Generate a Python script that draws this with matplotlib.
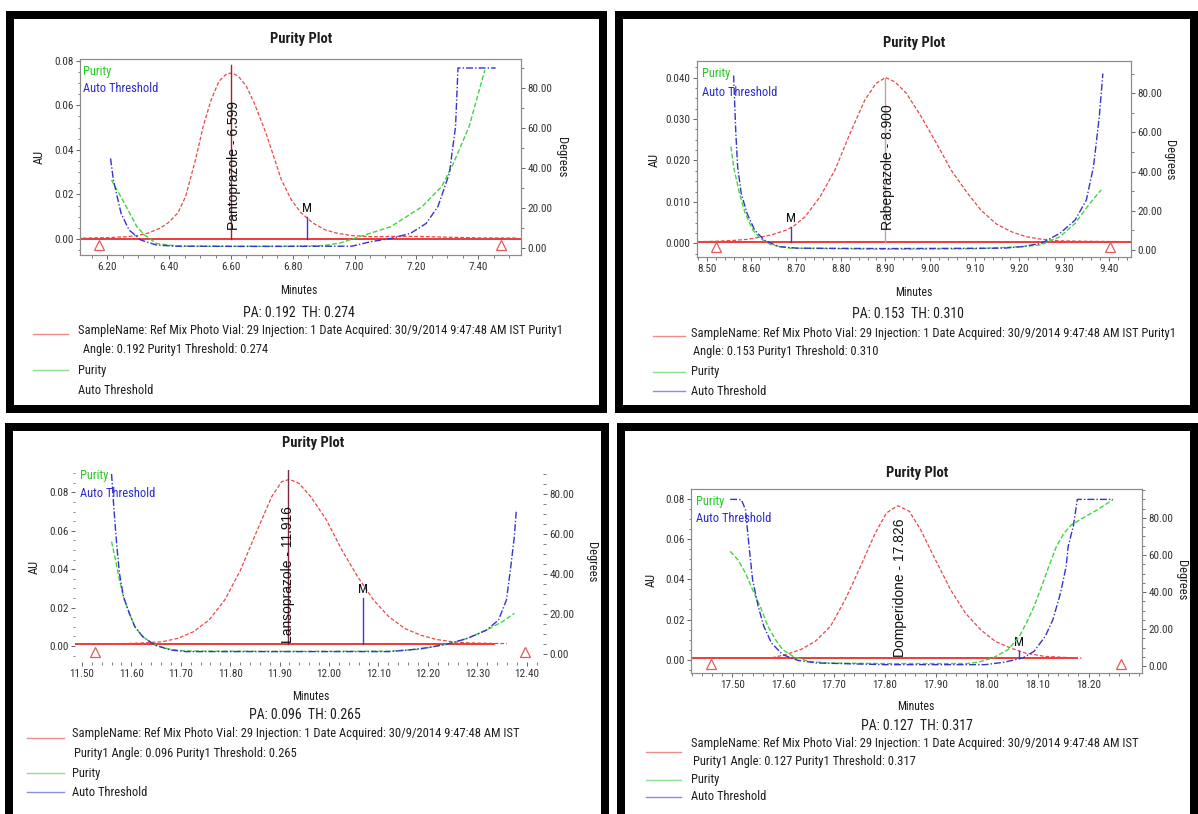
import matplotlib
matplotlib.use("Agg")
import matplotlib.pyplot as plt
import matplotlib.transforms as mtrans
from matplotlib import font_manager as fm
from matplotlib.ticker import MultipleLocator, FixedLocator, FormatStrFormatter
from matplotlib.patches import Rectangle
from matplotlib.lines import Line2D

# ---------------------------------------------------------------- data
# Pantoprazole
pan_name = "Pantoprazole"
pan_rt = 6.599
pan_pa, pan_th = 0.192, 0.274
pan_xticks = [6.20, 6.40, 6.60, 6.80, 7.00, 7.20, 7.40]
pan_yticks = [0.00, 0.02, 0.04, 0.06, 0.08]
pan_time_red = [6.12, 6.20, 6.26, 6.30, 6.333, 6.371, 6.396, 6.428, 6.453, 6.485, 6.510,
                6.536, 6.561, 6.586, 6.605, 6.624, 6.650, 6.675, 6.713, 6.738, 6.763, 6.795,
                6.827, 6.865, 6.903, 6.940, 6.991, 7.06, 7.15, 7.22, 7.30, 7.40, 7.53]
pan_au_red = [0.0004, 0.0006, 0.0010, 0.0016, 0.0027, 0.0049, 0.0072, 0.0117, 0.0191, 0.0356,
              0.0506, 0.0626, 0.0708, 0.0742, 0.0745, 0.0730, 0.0685, 0.0611, 0.0476, 0.0371,
              0.0266, 0.0176, 0.0117, 0.0072, 0.0042, 0.0027, 0.0015, 0.0010, 0.0012, 0.0011,
              0.0008, 0.0005, 0.0004]
pan_time_pur = [6.213, 6.255, 6.295, 6.320, 6.358, 6.422, 6.60, 6.80, 6.90, 6.953, 7.017,
                7.118, 7.219, 7.282, 7.320, 7.371, 7.422]
pan_deg_pur = [34.0, 22.3, 10.7, 6.5, 2.3, 1.0, 0.8, 0.9, 1.2, 2.5, 5.7, 10.7, 20.7, 30.7,
               42.3, 60.7, 89.0]
pan_time_thr = [6.210, 6.219, 6.244, 6.270, 6.308, 6.358, 6.422, 6.70, 6.991, 7.054, 7.118,
                7.181, 7.232, 7.270, 7.307, 7.327, 7.335, 7.457]
pan_deg_thr = [44.8, 34.0, 17.3, 9.0, 4.0, 1.5, 0.9, 0.8, 0.9, 3.2, 4.8, 7.3, 12.3, 20.7,
               37.3, 60.7, 90.0, 90.0]
pan_bounds = [6.172, 7.473]
pan_m_time, pan_m_au = 6.845, 0.0100
pan_baseline_au, pan_baseline_end = 0.0, None

# Rabeprazole
rab_name = "Rabeprazole"
rab_rt = 8.900
rab_pa, rab_th = 0.153, 0.310
rab_xticks = [8.50, 8.60, 8.70, 8.80, 8.90, 9.00, 9.10, 9.20, 9.30, 9.40]
rab_yticks = [0.000, 0.010, 0.020, 0.030, 0.040]
rab_time_red = [8.48, 8.52, 8.56, 8.594, 8.619, 8.644, 8.678, 8.695, 8.720, 8.754, 8.787,
                8.821, 8.854, 8.879, 8.900, 8.921, 8.947, 8.980, 9.014, 9.047, 9.081, 9.114,
                9.148, 9.182, 9.215, 9.249, 9.291, 9.35, 9.45]
rab_au_red = [0.0004, 0.0005, 0.0007, 0.0010, 0.0015, 0.0020, 0.0032, 0.0042, 0.0064, 0.0113,
              0.0177, 0.0266, 0.0346, 0.0386, 0.0400, 0.0390, 0.0362, 0.0306, 0.0242, 0.0177,
              0.0125, 0.0080, 0.0047, 0.0028, 0.0016, 0.0010, 0.0006, 0.0005, 0.0004]
rab_time_pur = [8.554, 8.560, 8.573, 8.586, 8.603, 8.619, 8.644, 8.686, 8.90, 9.10, 9.207,
                9.249, 9.291, 9.325, 9.358, 9.383]
rab_deg_pur = [52.7, 42.5, 28.9, 18.7, 10.2, 6.0, 2.6, 0.9, 0.4, 0.6, 1.7, 2.6, 6.8, 13.6,
               23.8, 30.6]
rab_time_thr = [8.560, 8.565, 8.569, 8.577, 8.590, 8.607, 8.628, 8.661, 8.703, 8.90, 9.165,
                9.207, 9.249, 9.291, 9.325, 9.350, 9.366, 9.379, 9.387]
rab_deg_thr = [89.0, 59.5, 42.5, 28.9, 18.7, 10.2, 5.1, 1.7, 0.9, 0.7, 0.9, 1.7, 3.4, 8.5,
               15.3, 25.5, 42.5, 68.0, 90.0]
rab_bounds = [8.521, 9.404]
rab_m_time, rab_m_au = 8.689, 0.0040
rab_baseline_au, rab_baseline_end = 0.0004, None

# Lansoprazole
lan_name = "Lansoprazole"
lan_rt = 11.916
lan_pa, lan_th = 0.096, 0.265
lan_xticks = [11.50, 11.60, 11.70, 11.80, 11.90, 12.00, 12.10, 12.20, 12.30, 12.40]
lan_yticks = [0.00, 0.02, 0.04, 0.06, 0.08]
lan_time_red = [11.49, 11.55, 11.60, 11.631, 11.663, 11.694, 11.726, 11.757, 11.789, 11.821,
                11.852, 11.884, 11.904, 11.920, 11.939, 11.963, 11.995, 12.026, 12.058,
                12.090, 12.121, 12.153, 12.185, 12.216, 12.248, 12.279, 12.327, 12.36]
lan_au_red = [0.0012, 0.0012, 0.0014, 0.0017, 0.0023, 0.0040, 0.0075, 0.0135, 0.0240, 0.0396,
              0.0587, 0.0778, 0.0856, 0.0868, 0.0848, 0.0778, 0.0656, 0.0500, 0.0361, 0.0240,
              0.0153, 0.0092, 0.0057, 0.0035, 0.0023, 0.0017, 0.0014, 0.0013]
lan_time_pur = [11.560, 11.568, 11.576, 11.584, 11.596, 11.607, 11.623, 11.647, 11.679,
                11.710, 11.90, 12.12, 12.185, 12.201, 12.240, 12.280, 12.319, 12.351, 12.375]
lan_deg_pur = [56.2, 47.0, 37.0, 28.7, 20.3, 13.7, 8.7, 4.5, 2.3, 1.5, 1.3, 1.4, 2.4, 3.2,
               5.0, 7.8, 12.0, 16.2, 20.3]
lan_time_thr = [11.560, 11.564, 11.568, 11.572, 11.576, 11.584, 11.596, 11.607, 11.623,
                11.647, 11.679, 11.710, 11.90, 12.122, 12.161, 12.201, 12.240, 12.280,
                12.319, 12.343, 12.359, 12.367, 12.375, 12.379]
lan_deg_thr = [90.0, 75.3, 62.0, 50.3, 40.3, 28.7, 20.3, 13.7, 8.7, 4.5, 2.0, 1.2, 1.2, 1.2,
               2.0, 3.2, 5.0, 7.8, 12.0, 17.0, 27.0, 42.0, 58.7, 72.0]
lan_bounds = [11.526, 12.397]
lan_m_time, lan_m_au = 12.069, 0.0250
lan_baseline_au, lan_baseline_end = 0.0012, 12.335

# Domperidone
dom_name = "Domperidone"
dom_rt = 17.826
dom_pa, dom_th = 0.127, 0.317
dom_xticks = [17.50, 17.60, 17.70, 17.80, 17.90, 18.00, 18.10, 18.20]
dom_yticks = [0.00, 0.02, 0.04, 0.06, 0.08]
dom_time_red = [17.42, 17.50, 17.575, 17.604, 17.634, 17.663, 17.693, 17.722, 17.752, 17.781,
                17.803, 17.825, 17.848, 17.870, 17.899, 17.929, 17.958, 17.988, 18.017,
                18.047, 18.076, 18.113, 18.150, 18.186]
dom_au_red = [0.0006, 0.0007, 0.0008, 0.0025, 0.0050, 0.0091, 0.0166, 0.0299, 0.0464, 0.0630,
              0.0730, 0.0766, 0.0738, 0.0647, 0.0498, 0.0348, 0.0232, 0.0149, 0.0091, 0.0058,
              0.0033, 0.0017, 0.0012, 0.0008]
dom_time_pur = [17.496, 17.511, 17.526, 17.540, 17.555, 17.570, 17.585, 17.599, 17.621,
                17.651, 17.688, 17.80, 17.960, 17.983, 18.012, 18.042, 18.064, 18.078, 18.093,
                18.108, 18.122, 18.137, 18.152, 18.167, 18.189, 18.218, 18.248]
dom_deg_pur = [62.0, 57.5, 50.3, 41.3, 32.3, 21.6, 14.4, 9.0, 5.1, 2.7, 1.8, 1.5, 1.5, 2.2,
               4.5, 9.0, 16.2, 23.4, 32.3, 43.1, 53.9, 64.7, 71.9, 76.4, 80.0, 84.5, 89.9]
dom_time_thr = [17.496, 17.511, 17.518, 17.526, 17.533, 17.540, 17.551, 17.562, 17.577,
                17.599, 17.629, 17.666, 17.80, 17.997, 18.034, 18.071, 18.093, 18.115, 18.130,
                18.145, 18.156, 18.160, 18.170, 18.174, 18.178, 18.248]
dom_deg_thr = [90.0, 90.0, 89.8, 84.5, 64.7, 46.7, 32.3, 21.6, 12.6, 6.3, 3.2, 1.8, 0.9, 0.9,
               2.2, 4.5, 8.1, 16.2, 25.2, 39.6, 53.9, 64.7, 75.5, 82.7, 90.0, 90.0]
dom_bounds = [17.459, 18.264]
dom_m_time, dom_m_au = 18.064, 0.0045
dom_baseline_au, dom_baseline_end = 0.0008, 18.18

degree_ticks = [0, 20, 40, 60, 80]
sample_text = ("SampleName: Ref Mix Photo Vial: 29 Injection: 1 "
               "Date Acquired: 30/9/2014 9:47:48 AM IST")

# ---------------------------------------------------------------- fonts
available = {f.name for f in fm.fontManager.ttflist}
NARROW = next((f for f in ["Liberation Sans Narrow", "Roboto Condensed",
                           "Open Sans Condensed", "Liberation Sans"] if f in available),
              "DejaVu Sans")
REGULAR = "Liberation Sans" if "Liberation Sans" in available else "DejaVu Sans"
plt.rcParams["font.family"] = [NARROW, "DejaVu Sans"]

# ---------------------------------------------------------------- colours
C_RED = "#ec4646"
C_BASE = "#e82c2c"
C_GREEN = "#3fd63f"
C_BLUE = "#3434cc"
C_TEXT = "#1e1e1e"
C_TICK = "#4a4a4a"

W, H = 1198, 814
fig = plt.figure(figsize=(W / 100, H / 100), dpi=100)
fig.patch.set_facecolor("white")


def px_axes(l, t, r, b):
    return fig.add_axes([l / W, 1 - b / H, (r - l) / W, (b - t) / H])


def ftext(x, y, s, **kw):
    kw.setdefault("va", "center")
    kw.setdefault("color", C_TEXT)
    return fig.text(x / W, 1 - y / H, s, **kw)


def fline(x0, x1, y, color):
    fig.add_artist(Line2D([x0 / W, x1 / W], [1 - y / H, 1 - y / H],
                          transform=fig.transFigure, color=color, lw=1.0))


def frame(x0, y0, x1, y1):
    fig.add_artist(Rectangle((x0 / W, 1 - y1 / H), (x1 - x0) / W, (y1 - y0) / H,
                             transform=fig.transFigure, fill=False, lw=8 * 0.72,
                             edgecolor="black", joinstyle="miter", clip_on=False))


panels = [
    dict(name=pan_name, rt=pan_rt, pa=pan_pa, th=pan_th, xt=pan_xticks, yt=pan_yticks,
         tr=pan_time_red, ar=pan_au_red, tp=pan_time_pur, dp=pan_deg_pur,
         tt=pan_time_thr, dt=pan_deg_thr, bounds=pan_bounds,
         m=(pan_m_time, pan_m_au), base=(pan_baseline_au, pan_baseline_end),
         frame=(10, 15, 603, 409), box=(80, 59, 521, 255),
         xlim=(6.111, 7.539), ylim=(-0.0072, 0.0808), y2lim=(-3.5, 94.5),
         xmin=0.05, ymin=0.005, yfmt="%.2f", y2min=10,
         spines=True, peak_line=("#a82222", 0.078), label_dx=0.012, label_y=0.004,
         title=(301, 39), au=(39, 157), deg=(561, 157), minutes=(299, 290),
         leg=(83, 71, 89),
         pa_xy=(299, 313), text_x=78, lines_y=(330, 349, 370, 390), red_line_y=334,
         line_x=(33, 68), blue_line=False,
         line2=" Angle: {:.3f} Purity1 Threshold: {:.3f}", line1_suffix=" Purity1"),
    dict(name=rab_name, rt=rab_rt, pa=rab_pa, th=rab_th, xt=rab_xticks, yt=rab_yticks,
         tr=rab_time_red, ar=rab_au_red, tp=rab_time_pur, dp=rab_deg_pur,
         tt=rab_time_thr, dt=rab_deg_thr, bounds=rab_bounds,
         m=(rab_m_time, rab_m_au), base=(rab_baseline_au, rab_baseline_end),
         frame=(619, 15, 1194, 409), box=(697, 61, 1131, 257),
         xlim=(8.478, 9.450), ylim=(-0.0033, 0.0440), y2lim=(-3.6, 96.4),
         xmin=0.02, ymin=0.0025, yfmt="%.3f", y2min=10,
         spines=True, peak_line=("#c8a0a0", 0.040), label_dx=0.005, label_y=0.0032,
         title=(914, 43), au=(654, 160), deg=(1170, 160), minutes=(914, 293),
         leg=(702, 74, 92),
         pa_xy=(908, 314), text_x=691, lines_y=(333, 352, 372, 391), red_line_y=336,
         line_x=(653, 685), blue_line=True,
         line2="Angle: {:.3f} Purity1 Threshold: {:.3f}", line1_suffix=" Purity1"),
    dict(name=lan_name, rt=lan_rt, pa=lan_pa, th=lan_th, xt=lan_xticks, yt=lan_yticks,
         tr=lan_time_red, ar=lan_au_red, tp=lan_time_pur, dp=lan_deg_pur,
         tt=lan_time_thr, dt=lan_deg_thr, bounds=lan_bounds,
         m=(lan_m_time, lan_m_au), base=(lan_baseline_au, lan_baseline_end),
         frame=(9, 427, 605, 822), box=(75, 470, 543, 662),
         xlim=(11.486, 12.433), ylim=(-0.0083, 0.0917), y2lim=(-4.0, 92.0),
         xmin=0.02, ymin=0.005, yfmt="%.2f", y2min=5,
         spines=False, peak_line=("#7a2a3a", 0.0917), label_dx=0.0, label_y=0.0016,
         title=(313, 443), au=(34, 567), deg=(591, 562), minutes=(311, 696),
         leg=(80, 475, 493),
         pa_xy=(305, 715), text_x=72, lines_y=(734, 753, 773, 792), red_line_y=738,
         line_x=(27, 64), blue_line=True,
         line2="Purity1 Angle: {:.3f} Purity1 Threshold: {:.3f}", line1_suffix=""),
    dict(name=dom_name, rt=dom_rt, pa=dom_pa, th=dom_th, xt=dom_xticks, yt=dom_yticks,
         tr=dom_time_red, ar=dom_au_red, tp=dom_time_pur, dp=dom_deg_pur,
         tt=dom_time_thr, dt=dom_deg_thr, bounds=dom_bounds,
         m=(dom_m_time, dom_m_au), base=(dom_baseline_au, dom_baseline_end),
         frame=(621, 427, 1194, 822), box=(691, 489, 1142, 673),
         xlim=(17.419, 18.305), ylim=(-0.0066, 0.0849), y2lim=(-3.6, 95.6),
         xmin=0.02, ymin=0.005, yfmt="%.2f", y2min=5,
         spines=True, peak_line=None, label_dx=0.004, label_y=0.0016,
         title=(917, 473), au=(651, 580), deg=(1182, 580), minutes=(916, 706),
         leg=(696, 501, 519),
         pa_xy=(917, 726), text_x=691, lines_y=(744, 762, 780, 797), red_line_y=752,
         line_x=(646, 681), blue_line=True,
         line2="Purity1 Angle: {:.3f} Purity1 Threshold: {:.3f}", line1_suffix=""),
]

for p in panels:
    frame(*p["frame"])
    ax = px_axes(*p["box"])
    ax2 = ax.twinx()
    ax.set_xlim(*p["xlim"])
    ax.set_ylim(*p["ylim"])
    ax2.set_ylim(*p["y2lim"])

    # axes styling
    for a in (ax, ax2):
        for s in a.spines.values():
            s.set_color("#8c8c8c")
            s.set_linewidth(0.8)
            s.set_visible(p["spines"])
        a.tick_params(which="major", direction="out", length=3.2, width=0.6,
                      colors=C_TICK, labelsize=8, pad=1.5, labelcolor="#333333")
        a.tick_params(which="minor", direction="out", length=1.8, width=0.5,
                      colors=C_TICK)
    ax.xaxis.set_major_locator(FixedLocator(p["xt"]))
    ax.xaxis.set_minor_locator(MultipleLocator(p["xmin"]))
    ax.xaxis.set_major_formatter(FormatStrFormatter("%.2f"))
    ax.yaxis.set_major_locator(FixedLocator(p["yt"]))
    ax.yaxis.set_minor_locator(MultipleLocator(p["ymin"]))
    ax.yaxis.set_major_formatter(FormatStrFormatter(p["yfmt"]))
    ax2.yaxis.set_major_locator(FixedLocator(degree_ticks))
    ax2.yaxis.set_minor_locator(MultipleLocator(p["y2min"]))
    ax2.yaxis.set_major_formatter(FormatStrFormatter("%.2f"))

    # integration baseline
    b_au, b_end = p["base"]
    x_end = p["xlim"][1] if b_end is None else b_end
    ax.plot([p["xlim"][0], x_end], [b_au, b_au], color=C_BASE, lw=1.3,
            solid_capstyle="butt", zorder=3)

    # chromatogram
    ax.plot(p["tr"], p["ar"], color=C_RED, lw=0.9, dashes=(3, 1.6), zorder=4)

    # apex marker and peak label
    if p["peak_line"] is not None:
        col, top = p["peak_line"]
        ax.plot([p["rt"], p["rt"]], [b_au, top], color=col, lw=1.0, zorder=5)
    ax.text(p["rt"] + p["label_dx"], p["label_y"], f"{p['name']} - {p['rt']:.3f}",
            rotation=90, ha="center", va="bottom", fontsize=10, family=REGULAR,
            color="#111111", zorder=6)

    # purity match marker
    m_t, m_h = p["m"]
    ax.plot([m_t, m_t], [b_au, m_h], color="#3a3ad0", lw=1.0, zorder=5)
    ax.annotate("M", xy=(m_t, m_h), xytext=(0, 1.5), textcoords="offset points",
                ha="center", va="bottom", fontsize=9.5, color="#111111", zorder=6)

    # peak start / end markers
    trans = mtrans.blended_transform_factory(ax.transData, ax.transAxes)
    ax.plot(p["bounds"], [0.05, 0.05], transform=trans, ls="none", marker="^",
            ms=7, mfc="none", mec="#e25a5a", mew=0.9, zorder=5, clip_on=False)

    # purity angle and threshold
    ax2.plot(p["tp"], p["dp"], color=C_GREEN, lw=1.0, dashes=(3.5, 1.6), zorder=4)
    ax2.plot(p["tt"], p["dt"], color=C_BLUE, lw=1.0, dashes=(5, 1.5, 1, 1.5), zorder=4)

    # labels around the plot
    ftext(*p["title"], "Purity Plot", ha="center", fontsize=10.5, fontweight="bold")
    ftext(*p["au"], "AU", ha="center", rotation=90, fontsize=9)
    ftext(*p["deg"], "Degrees", ha="center", rotation=270, fontsize=9)
    ftext(*p["minutes"], "Minutes", ha="center", fontsize=8.5)
    lx, ly1, ly2 = p["leg"]
    ftext(lx, ly1, "Purity", ha="left", fontsize=9, color="#22c922")
    ftext(lx, ly2, "Auto Threshold", ha="left", fontsize=9, color="#2a2acc")

    # legend block below the plot
    ftext(*p["pa_xy"], f"PA: {p['pa']:.3f}  TH: {p['th']:.3f}", ha="center", fontsize=10)
    y1, y2, y3, y4 = p["lines_y"]
    tx = p["text_x"]
    ftext(tx, y1, sample_text + p["line1_suffix"], ha="left", fontsize=9)
    ftext(tx + 2, y2, p["line2"].format(p["pa"], p["th"]), ha="left", fontsize=9)
    ftext(tx, y3, "Purity", ha="left", fontsize=9)
    ftext(tx, y4, "Auto Threshold", ha="left", fontsize=9)
    x0, x1 = p["line_x"]
    fline(x0, x1, p["red_line_y"], "#f08c8c")
    fline(x0, x1, y3, "#8ee08e")
    if p["blue_line"]:
        fline(x0, x1, y4, "#8c8ce6")

fig.savefig("out.png", dpi=100, facecolor="white")
